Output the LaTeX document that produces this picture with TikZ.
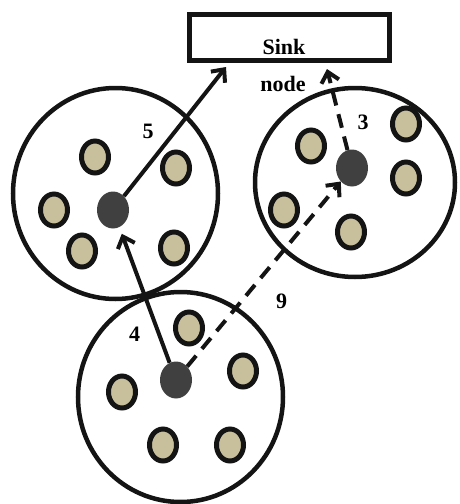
\documentclass[tikz,border=0pt]{standalone}
\usepackage{fontspec}
\setmainfont{Liberation Serif}
\usetikzlibrary{shapes.geometric,arrows.meta}
\definecolor{membercol}{HTML}{C8C09C}
\definecolor{chcol}{HTML}{404040}
\definecolor{ink}{HTML}{141414}
\begin{document}
\begin{tikzpicture}[x=1pt,y=-1pt,
 cluster/.style={ellipse,draw=ink,line width=4.5pt,inner sep=0pt},
 member/.style={ellipse,draw=ink,fill=membercol,line width=5pt,minimum width=27pt,minimum height=32pt,inner sep=0pt},
 head/.style={ellipse,fill=chcol,minimum width=32pt,minimum height=37pt,inner sep=0pt},
 link/.style={draw=ink,line width=4pt,-{Straight Barb[length=10pt,width=18pt,line width=4pt]}},
 dlink/.style={link,dash pattern=on 14pt off 9pt},
 lbl/.style={font=\bfseries\fontsize{22}{22}\selectfont,anchor=base,inner sep=0pt}]
\useasboundingbox (0,0) rectangle (460,504);
% clusters
\node[cluster,minimum width=205pt,minimum height=211pt] (c1) at (115.5,193.5) {};
\node[cluster,minimum width=200pt,minimum height=189pt] (c2) at (355,182.5) {};
\node[cluster,minimum width=205pt,minimum height=210pt] (c3) at (180.5,397) {};
% sink
\node[draw=ink,line width=5pt,minimum width=200pt,minimum height=46pt,inner sep=0pt] (sink) at (289.5,37.5) {};
\node[lbl] (sinktxt) at (284,54) {Sink};
\node[lbl] (nodetxt) at (283,91) {node};
\coordinate (s1) at (226,67);
\coordinate (s2) at (327,69);
% left cluster
\node[head] (lch) at (113,210) {};
\node[member] (l1) at (95,157) {};
\node[member] (l2) at (176,168) {};
\node[member] (l3) at (54,210) {};
\node[member] (l4) at (82,251) {};
\node[member] (l5) at (174,248) {};
% right cluster
\node[head] (rch) at (352,168) {};
\node[member] (r1) at (311,146) {};
\node[member] (r2) at (406,124) {};
\node[member] (r3) at (406,178) {};
\node[member] (r4) at (284,210) {};
\node[member] (r5) at (351,232) {};
% bottom cluster
\node[head] (bch) at (176,380) {};
\node[member] (b1) at (189,328) {};
\node[member] (b2) at (243,371) {};
\node[member] (b3) at (122,392) {};
\node[member] (b4) at (163,445) {};
\node[member] (b5) at (230,445) {};
% links
\draw[link] (lch) -- (s1);
\draw[link,shorten >=7pt] (bch) -- (lch);
\draw[dlink] (bch) -- (rch);
\draw[dlink] (rch) -- (s2);
% labels
\node[lbl] (l5lbl) at (148,138) {5};
\node[lbl] (l4lbl) at (134.5,341) {4};
\node[lbl] (l9lbl) at (281.5,308) {9};
\node[lbl] (l3lbl) at (363,129) {3};
\end{tikzpicture}
\end{document}
